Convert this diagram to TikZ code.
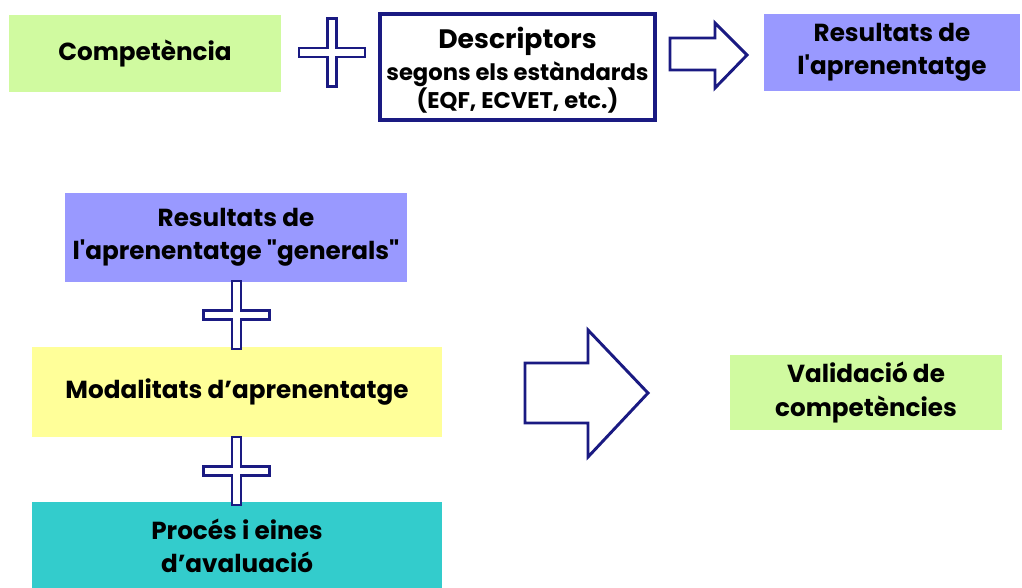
\documentclass[tikz,border=0pt]{standalone}
\usepackage{fontspec}
\setmainfont{Poppins}[Ligatures=TeXOff]
\definecolor{navy}{RGB}{26,26,130}
\definecolor{lgreen}{RGB}{208,250,160}
\definecolor{lpurple}{RGB}{153,153,255}
\definecolor{lyellow}{RGB}{255,255,153}
\definecolor{teal2}{RGB}{51,204,204}
\tikzset{
  box/.style={draw=none, inner sep=0pt, align=center, font=\fontsize{18.5}{25}\selectfont\bfseries},
  shapeline/.style={draw=navy, fill=white, line width=2.2pt, line join=miter},
  plussign/.pic={
    \path[shapeline] (-33,-4.5) -- (-4.5,-4.5) -- (-4.5,-34) -- (4.5,-34) -- (4.5,-4.5)
      -- (33,-4.5) -- (33,4.5) -- (4.5,4.5) -- (4.5,34) -- (-4.5,34) -- (-4.5,4.5)
      -- (-33,4.5) -- cycle;
  }
}
\begin{document}
\begin{tikzpicture}[x=0.75pt,y=-0.75pt]
\useasboundingbox (0,0) rectangle (1022,587);
% top row
\node[box, fill=lgreen, minimum width=204pt, minimum height=57.75pt] (comp) at (145,53.5) {Competència};
\node[box, draw=navy, line width=3pt, fill=white, minimum width=206.25pt, minimum height=79.5pt] (desc) at (517.5,67) {};
\node[font=\fontsize{20}{20}\selectfont\bfseries, anchor=base] (desct) at (517.5,48) {Descriptors};
\node[font=\fontsize{17}{16}\selectfont\bfseries, anchor=base] (descs) at (517.5,80) {segons els estàndards};
\node[font=\fontsize{17}{16}\selectfont\bfseries, anchor=base] (desce) at (517.5,108) {(EQF, ECVET, etc.)};
\node[box, fill=lpurple, minimum width=192pt, minimum height=57.75pt] (res1) at (892,52.5) {Resultats de\\l'aprenentatge};
\pic (plus1) at (332,52.5) {plussign};
\path[shapeline] (670,38) -- (715,38) -- (715,23) -- (747,55) -- (715,88) -- (715,70) -- (670,70) -- cycle;
% bottom
\node[box, fill=lpurple, minimum width=256.5pt, minimum height=66.75pt] (res2) at (236,237.5) {Resultats de\\l'aprenentatge "generals"};
\node[box, fill=lyellow, minimum width=307.5pt, minimum height=67.5pt] (mod) at (237,392) {Modalitats d’aprenentatge};
\node[box, fill=teal2, minimum width=307.5pt, minimum height=66pt] (proc) at (237,546) {Procés i eines\\d’avaluació};
\pic (plus2) at (236.5,315) {plussign};
\pic (plus3) at (236.5,471) {plussign};
\path[shapeline] (525,363) -- (588,363) -- (588,330) -- (648,393) -- (588,457) -- (588,423) -- (525,423) -- cycle;
\node[box, fill=lgreen, minimum width=204pt, minimum height=56.25pt] (val) at (866,392.5) {Validació de\\competències};
\end{tikzpicture}
\end{document}
